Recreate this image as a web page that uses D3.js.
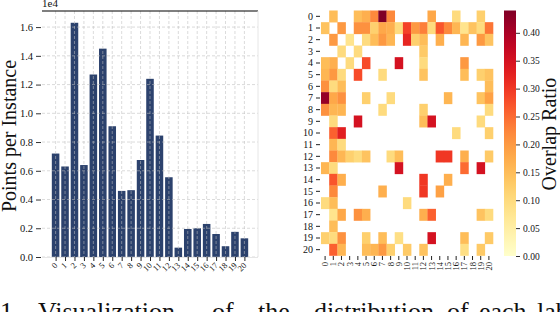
<!DOCTYPE html>
<html>
<head>
<meta charset="utf-8">
<script src="https://cdn.jsdelivr.net/npm/d3@7"></script>
<style>
  html, body { margin: 0; padding: 0; background: #fff; }
  svg { display: block; }
  text { font-family: "Liberation Serif", "DejaVu Serif", serif; fill: #111; }
</style>
</head>
<body>
<div id="chart"></div>
<script>
/* === Points per instance (bars) + overlap ratio (heatmap) === */

// bar chart data
var classIds = d3.range(21);
var pointsPerInstance = [7200, 6300, 16300, 6400, 12700, 14500, 9100, 4600, 4650, 6750,
    12400, 8450, 5550, 650, 1950, 2000, 2300, 1600, 750, 1750, 1300];
var barTicks = [0, 2000, 4000, 6000, 8000, 10000, 12000, 14000, 16000];

// heatmap data (row = class, col = class)
var overlap = [
    [0, .15, 0, 0, .15, .17, .22, .44, .22, 0, 0, 0, 0, .18, 0, 0, .10, 0, 0, .12, 0],
    [.14, 0, .20, 0, .21, .21, .12, .18, .17, .10, .29, .20, .23, .10, .27, .22, .16, .08, .14, .10, .24],
    [0, .20, 0, .08, 0, .10, .15, .20, .16, 0, .32, .12, .15, 0, .17, 0, 0, .16, 0, .20, .14],
    [0, 0, .10, 0, .10, 0, 0, 0, 0, 0, 0, 0, .13, 0, 0, 0, 0, 0, 0, 0, 0],
    [.15, .17, 0, .10, 0, .28, 0, 0, 0, .35, 0, 0, .10, 0, 0, 0, 0, .20, 0, 0, 0],
    [.16, .20, .10, 0, .28, 0, 0, .10, 0, 0, 0, 0, .14, 0, 0, 0, 0, .15, 0, .12, .14],
    [.21, .10, .15, 0, 0, 0, 0, 0, 0, 0, 0, 0, 0, 0, 0, 0, 0, 0, 0, 0, .15],
    [.42, .18, .21, 0, 0, .12, 0, 0, .10, 0, 0, 0, 0, 0, 0, .16, 0, 0, 0, .14, .19],
    [.21, .16, .16, 0, 0, 0, 0, .10, 0, 0, 0, 0, .12, 0, 0, 0, 0, 0, 0, 0, .10],
    [0, .10, 0, 0, .35, 0, 0, 0, 0, 0, 0, 0, .15, .35, 0, 0, 0, 0, 0, .10, 0],
    [0, .26, .33, 0, 0, 0, 0, 0, 0, 0, 0, 0, 0, 0, 0, 0, .10, 0, 0, 0, .12],
    [0, .16, .10, 0, 0, 0, 0, 0, 0, 0, 0, 0, 0, 0, 0, 0, 0, 0, 0, 0, 0],
    [0, .22, .16, .12, .10, .14, 0, 0, .10, .15, 0, 0, 0, 0, .30, .30, 0, .17, 0, 0, .13],
    [.16, .10, 0, 0, 0, 0, 0, 0, 0, .35, 0, 0, 0, 0, 0, 0, 0, .25, 0, .35, 0],
    [0, .27, .17, 0, 0, 0, 0, 0, 0, 0, 0, 0, .30, 0, 0, .17, 0, 0, 0, 0, 0],
    [0, .22, 0, 0, 0, 0, 0, .17, 0, 0, 0, 0, .30, 0, .19, 0, 0, 0, 0, 0, 0],
    [.10, .15, 0, 0, 0, 0, 0, 0, 0, 0, .10, 0, 0, 0, 0, 0, 0, 0, 0, 0, 0],
    [0, .08, .18, 0, .21, .17, 0, 0, 0, 0, 0, 0, .17, .26, 0, 0, 0, 0, 0, .14, .10],
    [0, .15, 0, 0, 0, 0, 0, 0, 0, 0, 0, 0, 0, 0, 0, 0, 0, 0, 0, 0, 0],
    [.12, .10, .21, 0, 0, .12, 0, .15, 0, .09, 0, 0, 0, .35, 0, 0, 0, .15, 0, 0, .13],
    [0, .26, .16, 0, 0, .15, .16, .20, .12, 0, .13, 0, .14, 0, 0, 0, 0, .09, 0, .13, 0]
];
var colorTicks = [0, 0.05, 0.10, 0.15, 0.20, 0.25, 0.30, 0.35, 0.40];
var colorMax = 0.44;

var captionWords = ['1.', 'Visualization', 'of', 'the', 'distribution', 'of', 'each', 'label'];

var W = 560, H = 312;
var svg = d3.select('#chart').append('svg')
    .attr('width', W).attr('height', H)
    .attr('viewBox', '0 0 ' + W + ' ' + H);

// ---------- bar chart ----------
var bx = d3.scaleLinear().domain([-1.44, 21.44]).range([42, 258]);
var by = d3.scaleLinear().domain([0, 17120]).range([257, 11]);

var barG = svg.append('g');

barG.selectAll('rect.bar')
    .data(pointsPerInstance)
    .join('rect')
    .attr('class', 'bar')
    .attr('x', function(d, i) { return bx(i - 0.4); })
    .attr('width', function() { return bx(0.8) - bx(0); })
    .attr('y', function(d) { return by(d); })
    .attr('height', function(d) { return by(0) - by(d); })
    .attr('fill', '#2c426d');

// grid (drawn on top, semi transparent)
barG.selectAll('line.hgrid')
    .data(barTicks)
    .join('line')
    .attr('x1', 42).attr('x2', 258)
    .attr('y1', function(d) { return by(d); })
    .attr('y2', function(d) { return by(d); })
    .attr('stroke', 'rgba(190,190,190,0.55)')
    .attr('stroke-dasharray', '3,2');

barG.selectAll('line.vgrid')
    .data(classIds)
    .join('line')
    .attr('x1', function(d) { return bx(d); })
    .attr('x2', function(d) { return bx(d); })
    .attr('y1', 11).attr('y2', 257)
    .attr('stroke', 'rgba(190,190,190,0.55)')
    .attr('stroke-dasharray', '3,2');

// frame
barG.append('line').attr('x1', 42).attr('x2', 258).attr('y1', 11).attr('y2', 11)
    .attr('stroke', '#000').attr('stroke-width', 1.2);
barG.append('line').attr('x1', 258).attr('x2', 258).attr('y1', 11).attr('y2', 257)
    .attr('stroke', '#e6e6e6');
barG.append('line').attr('x1', 42).attr('x2', 258).attr('y1', 257.5).attr('y2', 257.5)
    .attr('stroke', '#e6e6e6');

// y axis
var yAxis = d3.axisLeft(by).tickValues(barTicks).tickSize(5).tickPadding(3)
    .tickFormat(function(d) { return (d / 1e4).toFixed(1); });
var yg = barG.append('g').attr('transform', 'translate(41,0)').call(yAxis);
yg.select('.domain').remove();
yg.selectAll('line').attr('stroke', '#333');
yg.selectAll('text').style('font-size', '10.5px')
    .style('font-family', '"Liberation Serif", serif').attr('fill', '#222');

// x axis
var xAxis = d3.axisBottom(bx).tickValues(classIds).tickSize(4).tickFormat(d3.format('d'));
var xg = barG.append('g').attr('transform', 'translate(0,257)').call(xAxis);
xg.select('.domain').remove();
xg.selectAll('line').attr('stroke', '#222');
xg.selectAll('text')
    .style('font-size', '8.5px')
    .style('font-family', '"Liberation Serif", serif')
    .attr('fill', '#222')
    .attr('text-anchor', 'end')
    .attr('dy', null)
    .attr('y', 0)
    .attr('transform', 'translate(2,9) rotate(-45)');

barG.append('text').attr('x', 42).attr('y', 7)
    .style('font-size', '11px').text('1e4');

barG.append('text')
    .attr('transform', 'translate(16,136) rotate(-90)')
    .attr('text-anchor', 'middle')
    .style('font-size', '20px')
    .text('Points per Instance');

// ---------- heatmap ----------
var hx = d3.scaleBand().domain(classIds).range([321, 493]);
var hy = d3.scaleBand().domain(classIds).range([10.5, 255.5]);
var color = d3.scaleSequential(d3.interpolateYlOrRd).domain([0, colorMax]);

var cells = [];
overlap.forEach(function(row, r) {
    row.forEach(function(v, c) {
        if (v > 0) cells.push({ r: r, c: c, v: v });
    });
});

var heatG = svg.append('g');
heatG.selectAll('rect.cell')
    .data(cells)
    .join('rect')
    .attr('x', function(d) { return hx(d.c); })
    .attr('y', function(d) { return hy(d.r); })
    .attr('width', hx.bandwidth() + 0.3)
    .attr('height', hy.bandwidth() + 0.3)
    .attr('fill', function(d) { return color(d.v); });

var hyAxis = d3.axisLeft(hy).tickSize(4).tickPadding(3);
var hyg = heatG.append('g').attr('transform', 'translate(320,0)').call(hyAxis);
hyg.select('.domain').remove();
hyg.selectAll('line').attr('stroke', '#222');
hyg.selectAll('text').style('font-size', '10px')
    .style('font-family', '"Liberation Serif", serif').attr('fill', '#111');

var hxAxis = d3.axisBottom(hx).tickSize(4).tickPadding(2);
var hxg = heatG.append('g').attr('transform', 'translate(0,256)').call(hxAxis);
hxg.select('.domain').remove();
hxg.selectAll('line').attr('stroke', '#222');
hxg.selectAll('text')
    .style('font-size', '8.5px')
    .style('font-family', '"Liberation Serif", serif')
    .attr('fill', '#111')
    .attr('text-anchor', 'end')
    .attr('dy', null)
    .attr('y', 0)
    .attr('transform', 'translate(3,6) rotate(-90)');

// ---------- colorbar ----------
var defs = svg.append('defs');
var grad = defs.append('linearGradient').attr('id', 'cbar')
    .attr('x1', 0).attr('y1', 1).attr('x2', 0).attr('y2', 0);
d3.range(0, 1.0001, 0.05).forEach(function(t) {
    grad.append('stop').attr('offset', t).attr('stop-color', color(t * colorMax));
});
var cy = d3.scaleLinear().domain([0, colorMax]).range([256, 10.5]);
svg.append('rect').attr('x', 504).attr('y', 10.5).attr('width', 12).attr('height', 245.5)
    .attr('fill', 'url(#cbar)');

var cAxis = d3.axisRight(cy).tickValues(colorTicks).tickSize(4).tickPadding(3)
    .tickFormat(d3.format('.2f'));
var cg = svg.append('g').attr('transform', 'translate(516,0)').call(cAxis);
cg.select('.domain').remove();
cg.selectAll('line').attr('stroke', '#333');
cg.selectAll('text').style('font-size', '9.5px')
    .style('font-family', '"Liberation Serif", serif').attr('fill', '#111');

svg.append('text')
    .attr('transform', 'translate(556,134) rotate(-90)')
    .attr('text-anchor', 'middle')
    .style('font-size', '20px')
    .text('Overlap Ratio');

// ---------- caption (cut by the frame) ----------
var capX = [0, 38, 212, 258, 314, 447, 479, 537];
svg.append('g').selectAll('text')
    .data(captionWords)
    .join('text')
    .attr('x', function(d, i) { return capX[i]; })
    .attr('y', 320)
    .style('font-size', '26px')
    .text(function(d) { return d; });
</script>
</body>
</html>
